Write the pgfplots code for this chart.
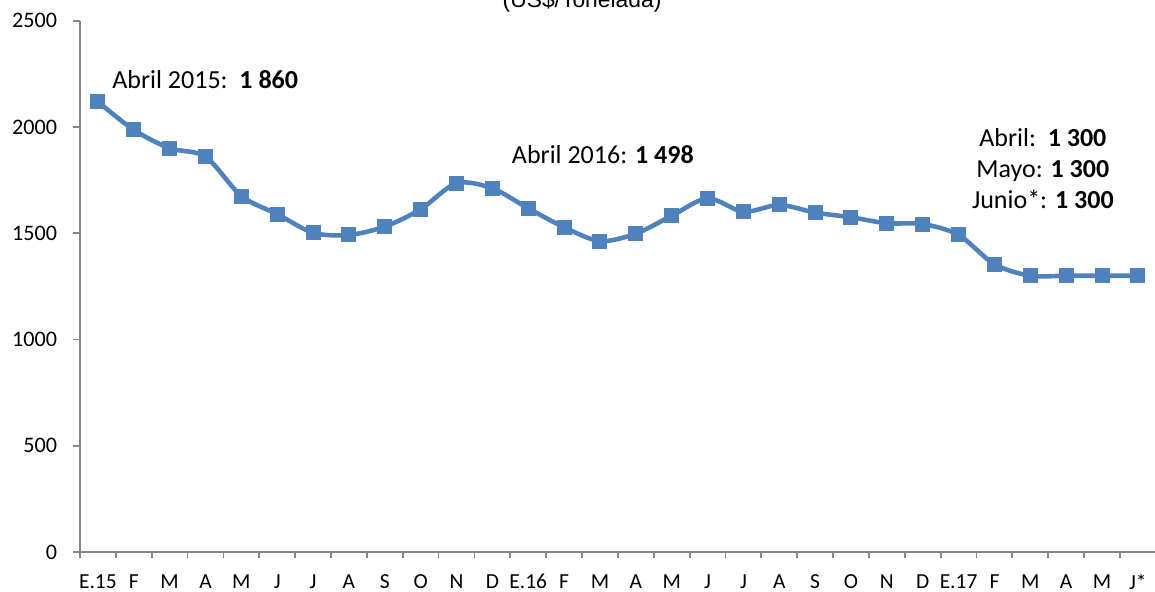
\documentclass[border=0pt]{standalone}
\usepackage{fontspec}
\setmainfont{Carlito}
\newfontfamily\arialfont{Liberation Sans}
\usepackage{pgfplots}
\pgfplotsset{compat=1.18}
\usetikzlibrary{calc}
\definecolor{serie}{HTML}{4F81BD}
\definecolor{axisgray}{HTML}{868686}
\begin{document}
\begin{tikzpicture}
\begin{axis}[
  scale only axis,
  width=10.758cm, height=5.313cm,
  xmin=-0.5, xmax=29.5,
  ymin=0, ymax=2500,
  axis x line*=bottom,
  axis y line*=left,
  axis line style={draw=axisgray, line width=0.5pt, -},
  tick align=outside,
  major tick length=0.065cm,
  tick style={draw=axisgray, line width=0.5pt},
  xtick={-0.5,0.5,1.5,2.5,3.5,4.5,5.5,6.5,7.5,8.5,9.5,10.5,11.5,12.5,13.5,14.5,15.5,16.5,17.5,18.5,19.5,20.5,21.5,22.5,23.5,24.5,25.5,26.5,27.5,28.5,29.5},
  xticklabels={E.15,F,M,A,M,J,J,A,S,O,N,D,E.16,F,M,A,M,J,J,A,S,O,N,D,E.17,F,M,A,M,J*,{}},
  xticklabel style={font=\fontsize{6.1pt}{7pt}\selectfont, xshift=0.1793cm, yshift=-0.035cm},
  ytick={0,500,1000,1500,2000,2500},
  yticklabel style={font=\fontsize{6.3pt}{7pt}\selectfont, xshift=-0.04cm},
  /pgf/number format/assume math mode=true,
  /pgf/number format/set thousands separator={},
  clip=false,
]
\addplot[color=serie, line width=1.3pt, smooth, mark=square*, mark size=0.07cm,
  mark options={fill=serie, draw=serie, line width=0pt}]
coordinates {
(0,2119) (1,1986) (2,1900) (3,1860) (4,1675) (5,1590) (6,1502) (7,1492)
(8,1531) (9,1613) (10,1735) (11,1711) (12,1617) (13,1528) (14,1463) (15,1498)
(16,1582) (17,1664) (18,1601) (19,1633) (20,1597) (21,1575) (22,1547) (23,1543)
(24,1492) (25,1354) (26,1300) (27,1300) (28,1300) (29,1300)
};
\node[anchor=base west, inner sep=0pt, font=\fontsize{7.4pt}{8pt}\selectfont] at (axis cs:0.384,2183) {Abril 2015:\ \ \textbf{1 860}};
\node[anchor=base, inner sep=0pt, font=\fontsize{7.4pt}{8pt}\selectfont] at (axis cs:14.08,1829) {Abril 2016: \textbf{1 498}};
\node[anchor=base, inner sep=0pt, font=\fontsize{7.4pt}{8pt}\selectfont] at (axis cs:26.35,1907) {Abril:\ \ \textbf{1 300}};
\node[anchor=base, inner sep=0pt, font=\fontsize{7.4pt}{8pt}\selectfont] at (axis cs:26.35,1762) {Mayo: \textbf{1 300}};
\node[anchor=base, inner sep=0pt, font=\fontsize{7.4pt}{8pt}\selectfont] at (axis cs:26.35,1617) {Junio*: \textbf{1 300}};
\node[anchor=base, inner sep=0pt, font=\arialfont\fontsize{6.5pt}{7pt}\selectfont] at (axis cs:13.5,2560) {(US\$/Tonelada)};
\end{axis}
\pgfresetboundingbox
\path[use as bounding box] ($(current axis.south west)+(-0.80cm,-0.40cm)$) rectangle ++(11.55cm,5.92cm);
\end{tikzpicture}
\end{document}
